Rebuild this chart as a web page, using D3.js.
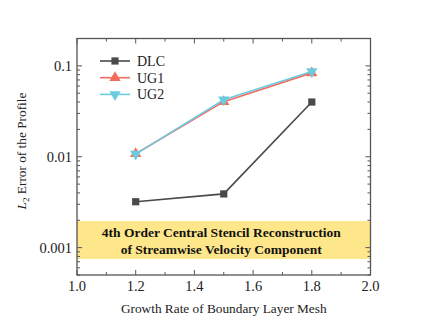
<!DOCTYPE html>
<html lang="en">
<head>
<meta charset="UTF-8">
<script src="https://d3js.org/d3.v7.min.js"></script>
<style>
  body { margin: 0; background: #fff; }
  text { font-family: "Liberation Serif", "Times New Roman", serif; fill: #222; }
</style>
</head>
<body>
<svg width="431" height="330"></svg>
<script>
// data
var growthRates = [1.2, 1.5, 1.8];
var dlc = [0.0032, 0.0039, 0.040];
var ug1 = [0.0108, 0.0404, 0.0837];
var ug2 = [0.0107, 0.0423, 0.0865];
var seriesNames = ["DLC", "UG1", "UG2"];
var xTicks = [1.0, 1.2, 1.4, 1.6, 1.8, 2.0];
var yTicks = [0.001, 0.01, 0.1];
var bandRange = [0.00075, 0.00196];
var bandLines = ["4th Order Central Stencil Reconstruction", "of Streamwise Velocity Component"];

var svg = d3.select("svg");
var pLeft = 77, pRight = 370.5, pTop = 38.5, pBottom = 275;

var x = d3.scaleLinear().domain([1.0, 2.0]).range([pLeft, pRight]);
var y = d3.scaleLog().domain([0.0005, 0.2]).range([pBottom, pTop]);

// highlight band
svg.append("rect")
    .attr("x", pLeft).attr("width", pRight - pLeft)
    .attr("y", y(bandRange[1]))
    .attr("height", y(bandRange[0]) - y(bandRange[1]))
    .attr("fill", "#fee68a");

var bandMid = (y(bandRange[0]) + y(bandRange[1])) / 2;
svg.selectAll(".band-text")
    .data(bandLines)
    .enter().append("text")
    .attr("x", (pLeft + pRight) / 2 - 2.5)
    .attr("y", (d, i) => bandMid - 3 + i * 17)
    .attr("text-anchor", "middle")
    .style("font-weight", "bold")
    .style("font-size", "13.5px")
    .style("fill", "#111")
    .text(d => d);

// minor ticks for log axis
var minorY = [];
[0.0001, 0.001, 0.01, 0.1].forEach(function(dec) {
    for (var k = 1; k <= 9; k++) {
        var v = +(dec * k).toPrecision(3);
        if (v >= 0.0005 && v <= 0.2) minorY.push(v);
    }
});
var minorX = d3.range(10, 21).map(d => d / 10);

var tickColor = "#555";
var frame = svg.append("g");

// y ticks, inward, left and right
minorY.forEach(function(v) {
    var major = yTicks.indexOf(v) >= 0;
    var len = major ? 5 : 3;
    frame.append("line").attr("x1", pLeft).attr("x2", pLeft + len)
        .attr("y1", y(v)).attr("y2", y(v)).attr("stroke", tickColor);
    frame.append("line").attr("x1", pRight).attr("x2", pRight - len)
        .attr("y1", y(v)).attr("y2", y(v)).attr("stroke", tickColor);
});
minorX.forEach(function(v) {
    var major = Math.round(v * 10) % 2 === 0;
    var len = major ? 5 : 3;
    frame.append("line").attr("y1", pBottom).attr("y2", pBottom - len)
        .attr("x1", x(v)).attr("x2", x(v)).attr("stroke", tickColor);
    frame.append("line").attr("y1", pTop).attr("y2", pTop + len)
        .attr("x1", x(v)).attr("x2", x(v)).attr("stroke", tickColor);
});

frame.append("rect")
    .attr("x", pLeft).attr("y", pTop)
    .attr("width", pRight - pLeft).attr("height", pBottom - pTop)
    .attr("fill", "none").attr("stroke", "#555").attr("stroke-width", 1.3);

// tick labels
svg.selectAll(".xlab").data(xTicks).enter().append("text")
    .attr("x", d => x(d)).attr("y", pBottom + 16)
    .attr("text-anchor", "middle")
    .style("font-size", "14.5px")
    .text(d3.format(".1f"));

svg.selectAll(".ylab").data(yTicks).enter().append("text")
    .attr("x", pLeft - 5).attr("y", d => y(d) + 5)
    .attr("text-anchor", "end")
    .style("font-size", "14.5px")
    .text(d => String(d));

// axis titles
svg.append("text")
    .attr("x", (pLeft + pRight) / 2).attr("y", 313)
    .attr("text-anchor", "middle")
    .style("font-size", "13.3px")
    .text("Growth Rate of Boundary Layer Mesh");

var yt = svg.append("text")
    .attr("transform", "translate(26," + 151 + ")rotate(-90)")
    .attr("text-anchor", "middle")
    .style("font-size", "13.3px");
yt.append("tspan").style("font-style", "italic").text("L");
yt.append("tspan").attr("dy", 3).style("font-size", "9px").text("2");
yt.append("tspan").attr("dy", -3).text(" Error of the Profile");

// series
var series = [
    { name: seriesNames[0], values: dlc, color: "#4a4a4a", symbol: d3.symbolSquare, rot: 0, size: 52 },
    { name: seriesNames[1], values: ug1, color: "#f26d5e", symbol: d3.symbolTriangle, rot: 0, size: 55 },
    { name: seriesNames[2], values: ug2, color: "#6ccbe0", symbol: d3.symbolTriangle, rot: 180, size: 55 }
];

var line = d3.line().x((d, i) => x(growthRates[i])).y(d => y(d));

series.forEach(function(s) {
    svg.append("path")
        .attr("d", line(s.values))
        .attr("fill", "none")
        .attr("stroke", s.color)
        .attr("stroke-width", 1.6);
    svg.selectAll(null).data(s.values).enter().append("path")
        .attr("d", d3.symbol().type(s.symbol).size(s.size))
        .attr("transform", (d, i) => "translate(" + x(growthRates[i]) + "," + y(d) + ")rotate(" + s.rot + ")")
        .attr("fill", s.color);
});

// legend
var legend = svg.append("g").attr("transform", "translate(100,61)");
series.forEach(function(s, i) {
    var g = legend.append("g").attr("transform", "translate(0," + (i * 16.7) + ")");
    g.append("line").attr("x1", 0).attr("x2", 30).attr("stroke", s.color).attr("stroke-width", 1.6);
    g.append("path")
        .attr("d", d3.symbol().type(s.symbol).size(s.size))
        .attr("transform", "translate(15,0)rotate(" + s.rot + ")")
        .attr("fill", s.color);
    g.append("text").attr("x", 37).attr("y", 5)
        .style("font-size", "14px")
        .text(s.name);
});
</script>
</body>
</html>
